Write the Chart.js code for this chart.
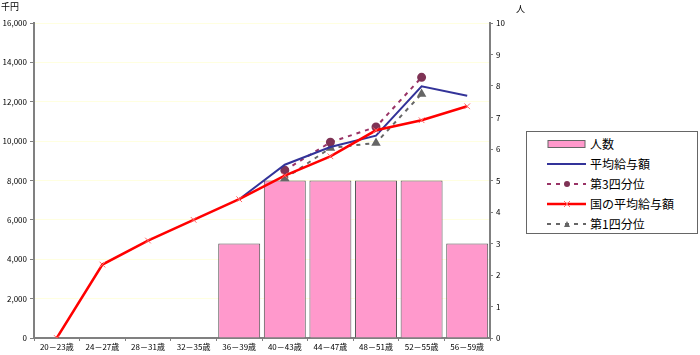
<!DOCTYPE html>
<html><head><meta charset="utf-8">
<script src="https://cdn.jsdelivr.net/npm/chart.js@4.4.1/dist/chart.umd.min.js"></script>
<style>
body{margin:0;background:#fff;}
#wrap{position:relative;width:700px;height:355px;font-family:"Noto Sans CJK JP","Noto Sans",sans-serif;}
.t{position:absolute;font-size:9px;color:#000;}
#lg{position:absolute;left:526px;top:131px;width:172px;height:103px;border:1px solid #666;background:#fff;box-sizing:border-box;}
.row{position:absolute;left:20px;height:16px;font-size:12px;line-height:16px;color:#000;}
.row svg{position:absolute;left:0;top:0;}
.row span{position:absolute;left:43px;top:0;white-space:nowrap;}
</style></head>
<body>
<div id="wrap">
<canvas id="c" width="700" height="355"></canvas>
<div class="t" style="left:1px;top:0px;">千円</div>
<div class="t" style="left:516px;top:2px;">人</div>
<div id="lg">
 <div class="row" style="top:4px"><svg width="40" height="16"><rect x="1" y="4.5" width="37" height="7" fill="#FF99CC" stroke="#666" stroke-width="1"/></svg><span>人数</span></div>
 <div class="row" style="top:24px"><svg width="40" height="16"><line x1="0" y1="8" x2="39" y2="8" stroke="#333399" stroke-width="2"/></svg><span>平均給与額</span></div>
 <div class="row" style="top:44px"><svg width="40" height="16"><line x1="0" y1="8" x2="39" y2="8" stroke="#993366" stroke-width="2" stroke-dasharray="4,5"/><circle cx="20" cy="8" r="3" fill="#7F3355"/></svg><span>第3四分位</span></div>
 <div class="row" style="top:64px"><svg width="40" height="16"><line x1="0" y1="8" x2="39" y2="8" stroke="#FF0000" stroke-width="2.5"/><path d="M17 5 L23 11 M23 5 L17 11" stroke="#FF6666" stroke-width="1"/></svg><span>国の平均給与額</span></div>
 <div class="row" style="top:84px"><svg width="40" height="16"><line x1="0" y1="8" x2="39" y2="8" stroke="#666" stroke-width="2" stroke-dasharray="4,5"/><path d="M17 11 L20 5 L23 11 Z" fill="#666"/></svg><span>第1四分位</span></div>
</div>
</div>
<script>
const categories = ["20－23歳","24－27歳","28－31歳","32－35歳","36－39歳","40－43歳","44－47歳","48－51歳","52－55歳","56－59歳"];
const headcount = [null,null,null,null,3,5,5,5,5,3];
const avgSalary = [null,null,null,null,7050,8800,9700,10280,12780,12310];
const q3Salary = [null,null,null,null,null,8520,9940,10720,13240,null];
const nationalAvg = [0,3730,4950,6000,7050,8250,9230,10550,11060,11770];
const q1Salary = [null,null,null,null,null,8100,9650,9910,12400,null];
const leftTicks = [0,2000,4000,6000,8000,10000,12000,14000,16000];
const rightTicks = [0,1,2,3,4,5,6,7,8,9,10];

const tickFont = {family:'"Noto Sans CJK JP","Noto Sans",sans-serif', size:8};
new Chart(document.getElementById('c'), {
  data: {
    labels: categories,
    datasets: [
      {type:'line', label:'平均給与額', data:avgSalary, yAxisID:'y', borderColor:'#333399', borderWidth:2, pointRadius:0, tension:0, order:1, spanGaps:false},
      {type:'line', label:'第3四分位', data:q3Salary, yAxisID:'y', borderColor:'#993366', borderWidth:2, borderDash:[4,5], pointStyle:'circle', pointRadius:3.5, pointBackgroundColor:'#7F3355', pointBorderColor:'#7F3355', tension:0, order:2},
      {type:'line', label:'国の平均給与額', data:nationalAvg, yAxisID:'y', borderColor:'#FF0000', borderWidth:2.5, pointStyle:'crossRot', pointRadius:4, pointBorderColor:'#FF6666', pointBorderWidth:1, tension:0, order:0},
      {type:'line', label:'第1四分位', data:q1Salary, yAxisID:'y', borderColor:'#666666', borderWidth:2, borderDash:[4,5], pointStyle:'triangle', pointRadius:3.5, pointBackgroundColor:'#666666', pointBorderColor:'#666666', tension:0, order:3},
      {type:'bar', label:'人数', data:headcount, yAxisID:'y1', backgroundColor:'#FF99CC', borderColor:'#555555', borderWidth:1, barPercentage:0.92, categoryPercentage:1, order:10}
    ]
  },
  options: {
    responsive:false, animation:false,
    layout:{padding:{top:23,right:180,bottom:0,left:0}},
    plugins:{legend:{display:false}, tooltip:{enabled:false}},
    scales:{
      x:{
        type:'category', offset:true,
        grid:{offset:true, drawOnChartArea:false, drawTicks:true, tickLength:3, tickColor:'#808080'},
        border:{color:'#808080', width:2},
        ticks:{font:tickFont, color:'#000', padding:1, maxRotation:0, autoSkip:false},
        afterFit(s){s.height=17;}
      },
      y:{
        position:'left', min:0, max:16000,
        afterBuildTicks(s){s.ticks = leftTicks.map(v=>({value:v}));},
        grid:{color:'#FFFFE0', lineWidth:1, drawTicks:true, tickLength:4, tickColor:'#808080'},
        border:{color:'#808080', width:2},
        ticks:{font:tickFont, color:'#000', padding:3, callback:v=>v.toLocaleString('en-US')},
        afterFit(s){s.width=34;}
      },
      y1:{
        position:'right', min:0, max:10,
        afterBuildTicks(s){s.ticks = rightTicks.map(v=>({value:v}));},
        grid:{drawOnChartArea:false, drawTicks:true, tickLength:3, tickColor:'#808080'},
        border:{color:'#808080', width:2},
        ticks:{font:tickFont, color:'#000', padding:3},
        afterFit(s){s.width=30;}
      }
    }
  }
});
</script>
</body></html>
